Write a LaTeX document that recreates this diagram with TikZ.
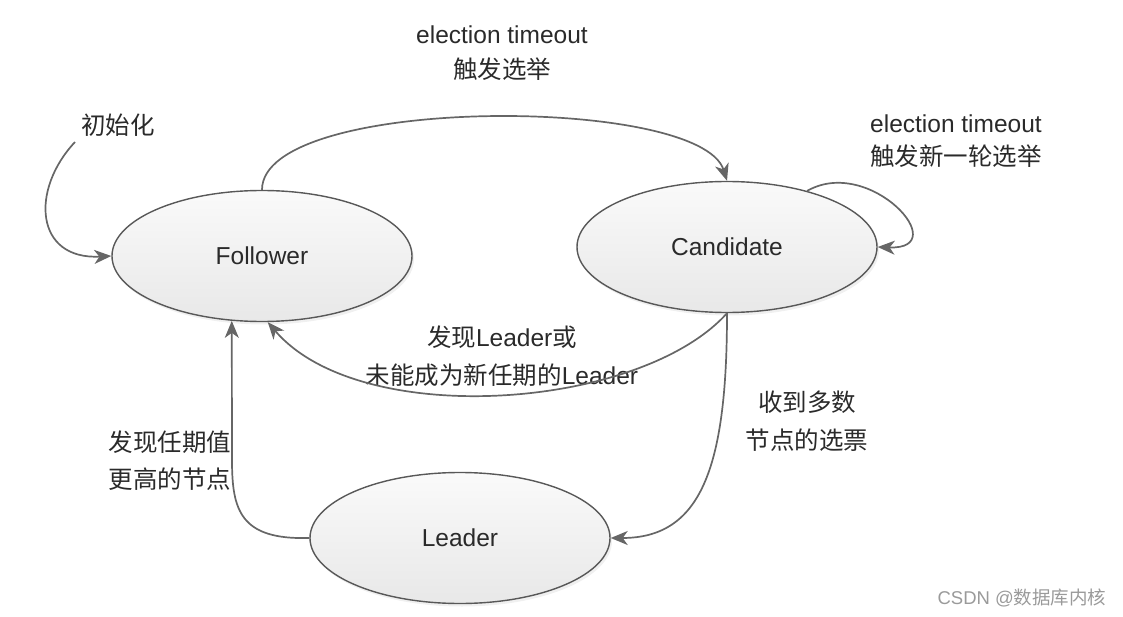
\documentclass[tikz,border=0pt]{standalone}
\usepackage{fontspec}
\setmainfont{Liberation Sans}
\newfontfamily\cjk{Noto Sans CJK SC}
\usetikzlibrary{arrows.meta,shapes.geometric,shadows}
\definecolor{raftink}{HTML}{2A2A2A}
\definecolor{raftline}{HTML}{666666}
\definecolor{raftrim}{HTML}{585858}
\definecolor{raftmark}{HTML}{9A9A9A}
\newcommand{\zh}[1]{{\cjk #1}}
\tikzset{
  every picture/.style={font=\fontsize{24.5}{36}\selectfont,text=raftink},
  state/.style={ellipse,draw=raftrim,line width=1.4pt,top color=black!2,bottom color=black!9,
    minimum width=300pt,minimum height=131pt,inner sep=0pt,
    drop shadow={opacity=0.12,shadow xshift=2pt,shadow yshift=-3pt}},
  trans/.style={draw=raftline,line width=1.7pt,
    -{Stealth[length=17pt,width=14pt,inset=5pt]}},
  lbl/.style={align=center,inner sep=0pt},
}

\begin{document}
\begin{tikzpicture}[x=1pt,y=-1pt]
  \path[use as bounding box] (0,0) rectangle (1123,617);
  % the three server states
  \node[state] (follower) at (262,256) {Follower};
  \node[state] (candidate) at (727,247) {Candidate};
  \node[state] (leader) at (460,538) {Leader};
  % labels of the transitions
  \node[lbl] (initlbl) at (118,125) {\zh{初始化}};
  \coordinate (initstart) at (75,142);
  \node[lbl,font=\fontsize{24.5}{35}\selectfont] (electlbl) at (502,53)
    {election timeout\\\zh{触发选举}};
  \node[lbl,font=\fontsize{24.5}{33}\selectfont] (retrylbl) at (956,141)
    {election timeout\\\zh{触发新一轮选举}};
  \node[lbl,font=\fontsize{24.5}{38}\selectfont] (steplbl) at (502,356)
    {\zh{发现}Leader\zh{或}\\\zh{未能成为新任期的}Leader};
  \node[lbl,font=\fontsize{24.5}{38}\selectfont] (votelbl) at (807,421)
    {\zh{收到多数}\\\zh{节点的选票}};
  \node[lbl,font=\fontsize{24.5}{37}\selectfont] (termlbl) at (170,461)
    {\zh{发现任期值}\\\zh{更高的节点}};
  \draw[trans] (initstart) .. controls (30,190) and (35,260) .. (follower.west);
  \draw[trans] (follower.north) .. controls (262,95) and (700,95) .. (candidate.north);
  \draw[trans] (candidate.35) .. controls (870,155) and (955,250) .. (candidate.east);
  \draw[trans] (candidate.south) .. controls (640,410) and (360,430) .. (follower.275);
  \draw[trans] (candidate.south) .. controls (727,470) and (700,538) .. (leader.east);
  \draw[trans] (leader.west) .. controls (240,540) and (232,510) .. (232,460) -- (follower.245);
  \node[text=raftmark,font=\fontsize{18.5}{20}\selectfont] (mark) at (1022,598)
    {CSDN @\zh{数据库内核}};
\end{tikzpicture}
\end{document}
